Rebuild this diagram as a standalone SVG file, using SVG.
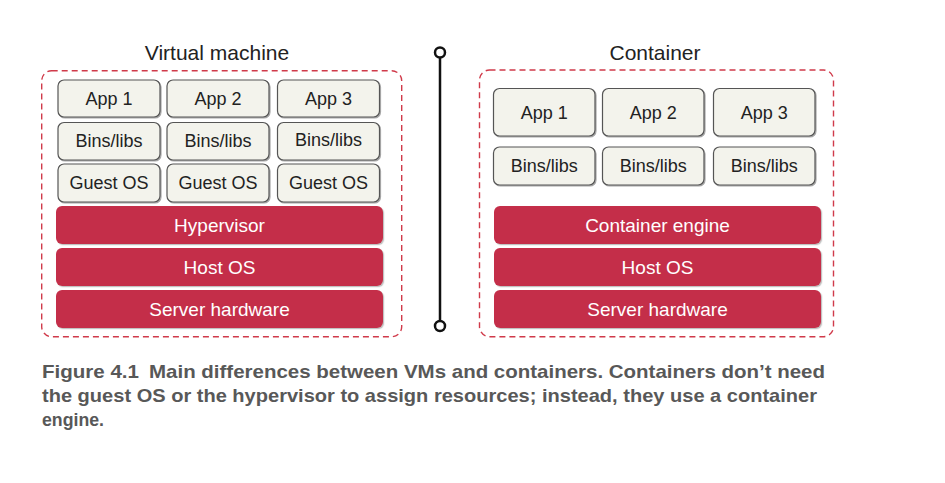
<svg xmlns="http://www.w3.org/2000/svg" width="945" height="483" viewBox="0 0 945 483">
<style>
  .t { font-family: "Liberation Sans", Arial, sans-serif; }
  .title { font-size: 21px; fill: #222; text-anchor: middle; }
  .lbl { font-size: 18px; fill: #222; text-anchor: middle; }
  .wl { font-size: 19px; fill: #fff; text-anchor: middle; }
  .box { fill: #F3F3EC; stroke: #555; stroke-width: 1.2; filter: url(#sh); }
  .red { fill: #C42E4A; filter: url(#shl); }
  .dash { fill: none; stroke: #D03A4A; stroke-width: 1.4; stroke-dasharray: 6 4; }
  .cap { font-family: "Liberation Sans", Arial, sans-serif; font-weight: bold; font-size: 19px; fill: #585858; }
</style>
<defs>
  <filter id="sh" x="-10%" y="-10%" width="120%" height="130%">
    <feDropShadow dx="1" dy="1" stdDeviation="0.6" flood-color="#000" flood-opacity="0.35"/>
  </filter>
  <filter id="shl" x="-10%" y="-10%" width="120%" height="130%">
    <feDropShadow dx="1.2" dy="1.2" stdDeviation="0.7" flood-color="#999" flood-opacity="0.6"/>
  </filter>
</defs>

<!-- Virtual machine -->
<g id="vm">
  <text class="t title" x="217" y="60">Virtual machine</text>
  <rect class="dash" x="41.7" y="70.7" width="360" height="266" rx="10"/>
  <g id="vm-app1"><rect class="box" x="58" y="80" width="102" height="37" rx="6"/><text class="t lbl" x="109" y="104.5">App 1</text></g>
  <g id="vm-app2"><rect class="box" x="167" y="80" width="102" height="37" rx="6"/><text class="t lbl" x="218" y="104.5">App 2</text></g>
  <g id="vm-app3"><rect class="box" x="277.5" y="80" width="102" height="37" rx="6"/><text class="t lbl" x="328.5" y="104.5">App 3</text></g>
  <g id="vm-bins1"><rect class="box" x="58" y="122.5" width="102" height="37.5" rx="6"/><text class="t lbl" x="109" y="147">Bins/libs</text></g>
  <g id="vm-bins2"><rect class="box" x="167" y="122.5" width="102" height="37.5" rx="6"/><text class="t lbl" x="218" y="147">Bins/libs</text></g>
  <g id="vm-bins3"><rect class="box" x="277.5" y="122.5" width="102" height="37.5" rx="6"/><text class="t lbl" x="328.5" y="146">Bins/libs</text></g>
  <g id="vm-guest1"><rect class="box" x="58" y="164" width="102" height="38" rx="6"/><text class="t lbl" x="109" y="189">Guest OS</text></g>
  <g id="vm-guest2"><rect class="box" x="167" y="164" width="102" height="38" rx="6"/><text class="t lbl" x="218" y="189">Guest OS</text></g>
  <g id="vm-guest3"><rect class="box" x="277.5" y="164" width="102" height="38" rx="6"/><text class="t lbl" x="328.5" y="189">Guest OS</text></g>
  <g id="vm-hypervisor"><rect class="red" x="56" y="206" width="327" height="38" rx="6"/><text class="t wl" x="219.5" y="232">Hypervisor</text></g>
  <g id="vm-hostos"><rect class="red" x="56" y="248" width="327" height="38" rx="6"/><text class="t wl" x="219.5" y="274">Host OS</text></g>
  <g id="vm-hw"><rect class="red" x="56" y="290" width="327" height="38" rx="6"/><text class="t wl" x="219.5" y="316">Server hardware</text></g>
</g>

<!-- Divider -->
<g id="connectors">
  <line x1="440" y1="57.5" x2="440" y2="321" stroke="#111" stroke-width="2.5"/>
  <circle cx="440" cy="52.5" r="5" fill="#fff" stroke="#111" stroke-width="2.5"/>
  <circle cx="440" cy="326" r="5" fill="#fff" stroke="#111" stroke-width="2.5"/>
</g>

<!-- Container -->
<g id="container">
  <text class="t title" x="655" y="60">Container</text>
  <rect class="dash" x="479.5" y="70" width="354" height="266.7" rx="10"/>
  <g id="c-app1"><rect class="box" x="493.5" y="88.5" width="101.5" height="47.5" rx="6"/><text class="t lbl" x="544.2" y="118.5">App 1</text></g>
  <g id="c-app2"><rect class="box" x="602.5" y="88.5" width="101.5" height="47.5" rx="6"/><text class="t lbl" x="653.2" y="118.5">App 2</text></g>
  <g id="c-app3"><rect class="box" x="713.5" y="88.5" width="101.5" height="47.5" rx="6"/><text class="t lbl" x="764.2" y="118.5">App 3</text></g>
  <g id="c-bins1"><rect class="box" x="493.5" y="147" width="101.5" height="38" rx="6"/><text class="t lbl" x="544.2" y="172">Bins/libs</text></g>
  <g id="c-bins2"><rect class="box" x="602.5" y="147" width="101.5" height="38" rx="6"/><text class="t lbl" x="653.2" y="172">Bins/libs</text></g>
  <g id="c-bins3"><rect class="box" x="713.5" y="147" width="101.5" height="38" rx="6"/><text class="t lbl" x="764.2" y="172">Bins/libs</text></g>
  <g id="c-engine"><rect class="red" x="494" y="206" width="327" height="38" rx="6"/><text class="t wl" x="657.5" y="232">Container engine</text></g>
  <g id="c-hostos"><rect class="red" x="494" y="248" width="327" height="38" rx="6"/><text class="t wl" x="657.5" y="274">Host OS</text></g>
  <g id="c-hw"><rect class="red" x="494" y="290" width="327" height="38" rx="6"/><text class="t wl" x="657.5" y="316">Server hardware</text></g>
</g>

<!-- Caption -->
<g id="caption">
  <text class="cap" x="42" y="377.5" textLength="97" lengthAdjust="spacingAndGlyphs">Figure 4.1</text>
  <text class="cap" x="149" y="377.5" textLength="676" lengthAdjust="spacingAndGlyphs">Main differences between VMs and containers. Containers don’t need</text>
  <text class="cap" x="42" y="401.5" textLength="775" lengthAdjust="spacingAndGlyphs">the guest OS or the hypervisor to assign resources; instead, they use a container</text>
  <text class="cap" x="42" y="425.5" textLength="62" lengthAdjust="spacingAndGlyphs">engine.</text>
</g>
</svg>
